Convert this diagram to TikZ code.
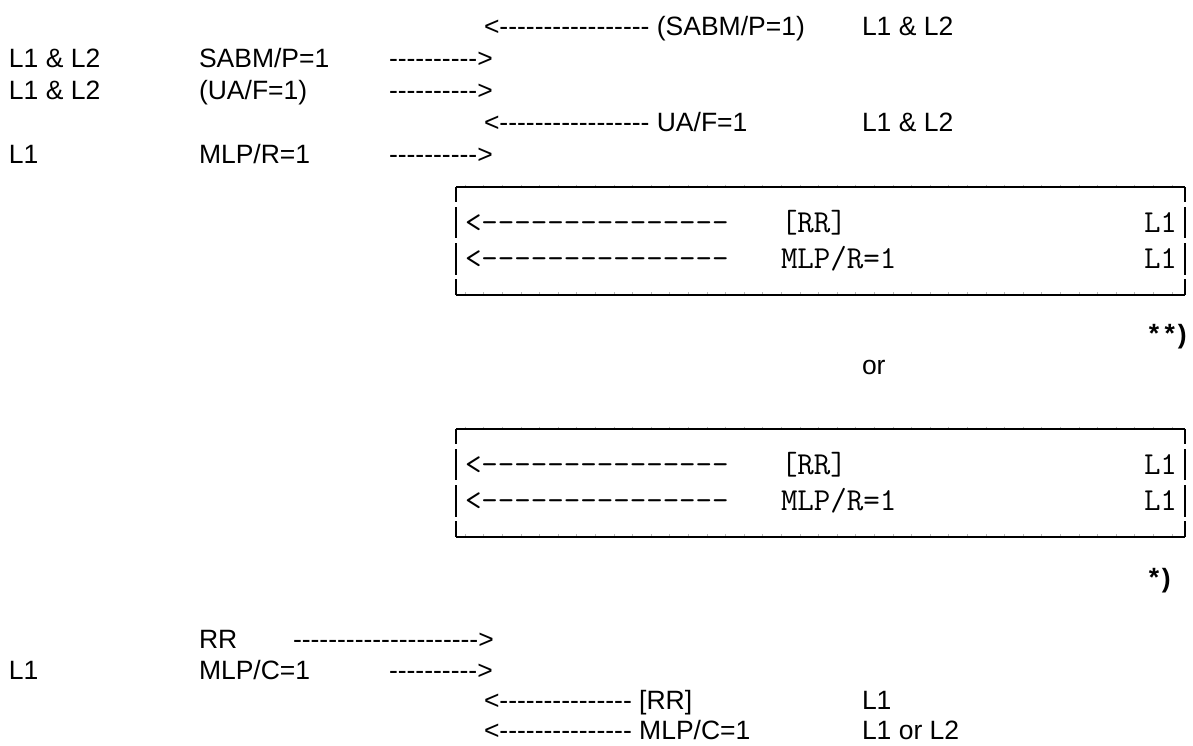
\documentclass[tikz,border=0pt]{standalone}
\usepackage{fontspec}
\newfontfamily\plainfont{Liberation Sans}
\newfontfamily\starfont{Liberation Mono}
\begin{document}
\begin{tikzpicture}[x=1pt,y=-1pt,
  txt/.style={anchor=base west,inner sep=0pt,outer sep=0pt,
    font=\plainfont\fontsize{26.5}{30}\selectfont},
  note/.style={txt,font=\plainfont\bfseries\fontsize{26.5}{30}\selectfont},
  mono/.style={anchor=base west,inner sep=0pt,outer sep=0pt,
    font=\ttfamily\fontsize{32}{36}\selectfont},
  frame/.style={line width=2.6pt,line cap=butt},
  tick/.style={gray!55,line width=0.6pt}]
\useasboundingbox (0,0) rectangle (1193,745);

% opening exchange
\node[txt] (r0a) at (484,35) {<----------------- (SABM/P=1)};
\node[txt] (r0b) at (862,35) {L1 \& L2};
\node[txt] (r1a) at (9,67) {L1 \& L2};
\node[txt] (r1b) at (199,67) {SABM/P=1};
\node[txt] (r1c) at (389,67) {---------->};
\node[txt] (r2a) at (9,99) {L1 \& L2};
\node[txt] (r2b) at (199,99) {(UA/F=1)};
\node[txt] (r2c) at (389,99) {---------->};
\node[txt] (r3a) at (484,131) {<----------------- UA/F=1};
\node[txt] (r3b) at (862,131) {L1 \& L2};
\node[txt] (r4a) at (9,163) {L1};
\node[txt] (r4b) at (199,163) {MLP/R=1};
\node[txt] (r4c) at (389,163) {---------->};

% framed alternative, drawn twice
\foreach \dy/\nm in {0/A,242/B}{
  \begin{scope}[yshift=-\dy pt]
    \foreach \i in {0,...,38}{
      \draw[tick] (465+18.6*\i,184.5) -- (465+18.6*\i,187);
      \draw[tick] (465+18.6*\i,292) -- (465+18.6*\i,294.5);
    }
    \draw[frame] (456,187) -- (1185,187);
    \draw[frame] (456,295) -- (1185,295);
    \foreach \ya/\yb in {187/202,207/238,243/275,279/295}{
      \draw[frame] (456,\ya) -- (456,\yb);
      \draw[frame] (1185,\ya) -- (1185,\yb);
    }
    \node[mono] (b\nm1a) at (465,232) {<---------------};
    \node[mono] (b\nm1b) at (781,232) {[RR]};
    \node[mono] (b\nm1c) at (1144,232) {L1};
    \node[mono] (b\nm2a) at (465,268) {<---------------};
    \node[mono] (b\nm2b) at (781,268) {MLP/R=1};
    \node[mono] (b\nm2c) at (1144,268) {L1};
  \end{scope}
}
\node[note] (n2) at (1146,343) {{\starfont\bfseries **})};
\node[txt] (or) at (862,374) {or};
\node[note] (n1) at (1146,587) {{\starfont\bfseries *})};

% closing exchange
\node[txt] (s0b) at (199,648) {RR};
\node[txt] (s0c) at (293,648) {--------------------->};
\node[txt] (s1a) at (9,679) {L1};
\node[txt] (s1b) at (199,679) {MLP/C=1};
\node[txt] (s1c) at (389,679) {---------->};
\node[txt] (s2a) at (484,709) {<--------------- [RR]};
\node[txt] (s2b) at (862,709) {L1};
\node[txt] (s3a) at (484,739) {<--------------- MLP/C=1};
\node[txt] (s3b) at (862,739) {L1 or L2};
\end{tikzpicture}
\end{document}
